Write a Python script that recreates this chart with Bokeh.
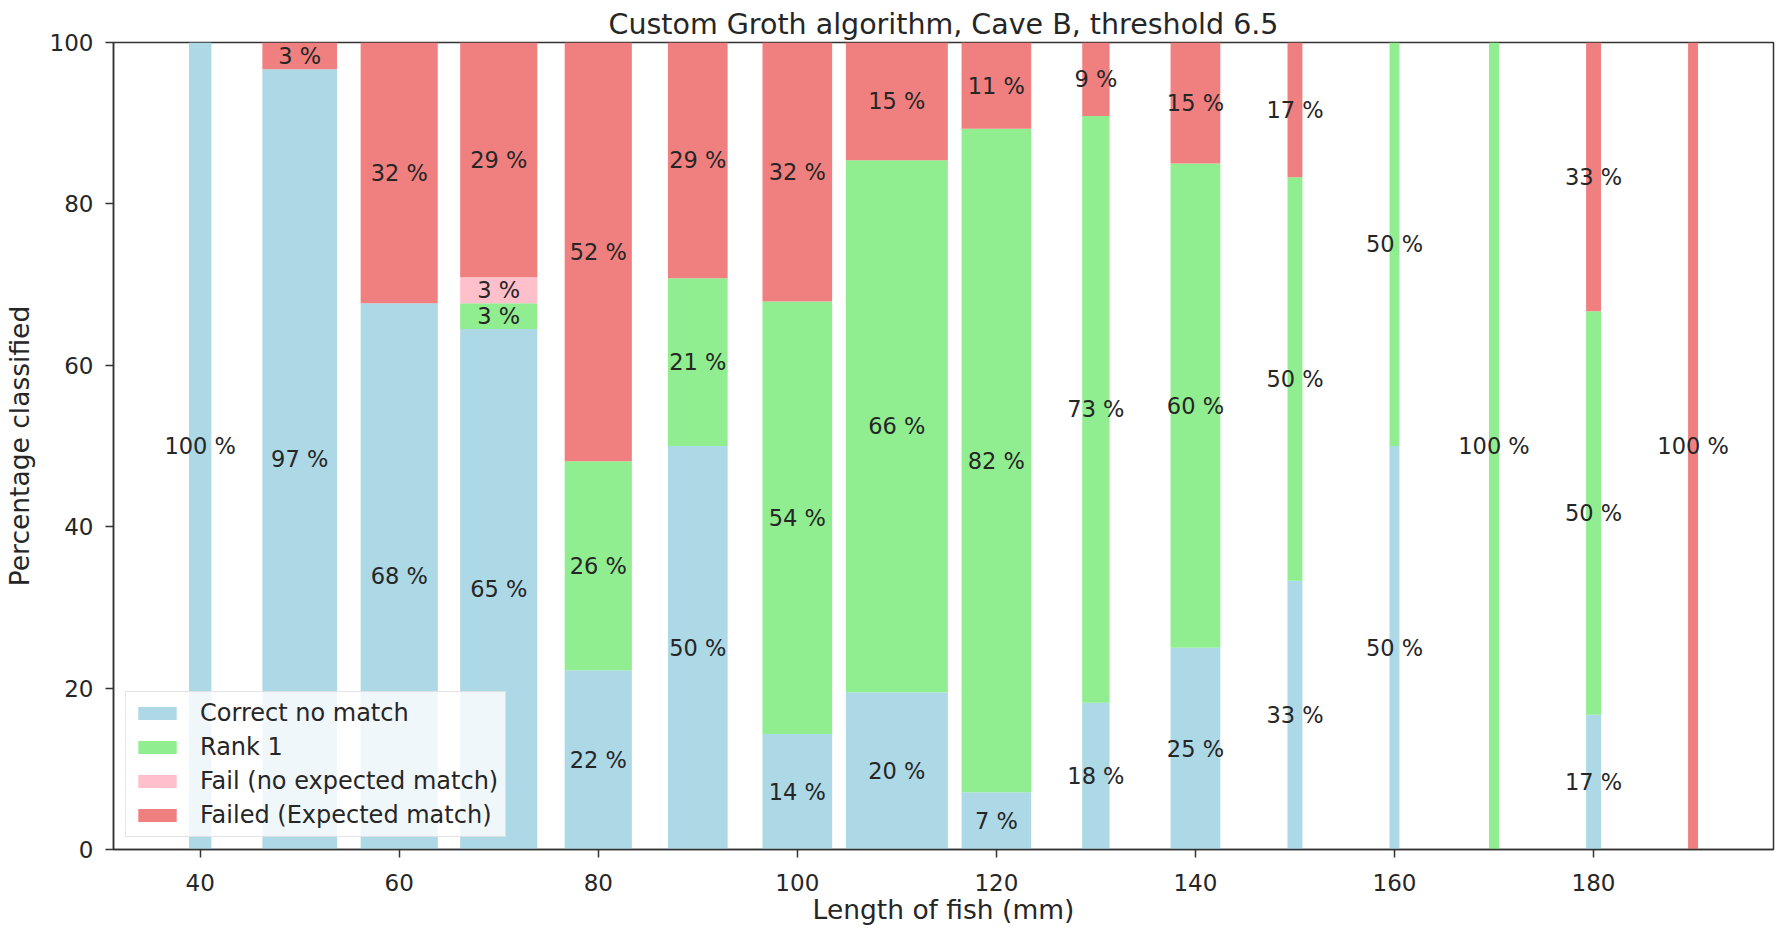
from bokeh.plotting import figure
from bokeh.models import Range1d, FixedTicker, Legend, LegendItem, ColumnDataSource
from bokeh.core.properties import value
from bokeh.embed import file_html
from bokeh.resources import INLINE

# ---- data ----
lengths = [40, 50, 60, 70, 80, 90, 100, 110, 120, 130, 140, 150, 160, 170, 180, 190]
bar_widths = [2.25, 7.5, 7.75, 7.75, 6.75, 6.0, 7.0, 10.25, 7.0, 2.75, 5.0, 1.5, 1.0, 1.0, 1.5, 1.0]

correct_no_match = [100.0, 96.7, 67.7, 64.5, 22.2, 50.0, 14.3, 19.5, 7.1, 18.2, 25.0, 33.3, 50.0, 0.0, 16.7, 0.0]
rank_1 = [0.0, 0.0, 0.0, 3.2, 25.9, 20.8, 53.6, 65.9, 82.2, 72.7, 60.0, 50.0, 50.0, 100.0, 50.0, 0.0]
fail_no_expected = [0.0, 0.0, 0.0, 3.2, 0.0, 0.0, 0.0, 0.0, 0.0, 0.0, 0.0, 0.0, 0.0, 0.0, 0.0, 0.0]
failed_expected = [0.0, 3.3, 32.3, 29.1, 51.9, 29.2, 32.1, 14.6, 10.7, 9.1, 15.0, 16.7, 0.0, 0.0, 33.3, 100.0]

series_names = ["Correct no match", "Rank 1", "Fail (no expected match)", "Failed (Expected match)"]
series_colors = ["#ADD8E6", "#90EE90", "#FFC0CB", "#F08080"]

x_ticks = [40, 60, 80, 100, 120, 140, 160, 180]
y_ticks = [0, 20, 40, 60, 80, 100]

title_text = "Custom Groth algorithm, Cave B, threshold 6.5"
x_label = "Length of fish (mm)"
y_label = "Percentage classified"

FONT = "DejaVu Sans"
TEXT = "#262626"
AXIS = "#333333"

# x range like matplotlib's 5% margins around the bar edges
lo = min(x - w / 2 for x, w in zip(lengths, bar_widths))
hi = max(x + w / 2 for x, w in zip(lengths, bar_widths))
pad = 0.05 * (hi - lo)

p = figure(
    width=1775, height=928,
    x_range=Range1d(lo - pad, hi + pad), y_range=Range1d(0, 100),
    output_backend="svg", toolbar_location=None,
    title=title_text,
    min_border_left=113, min_border_right=2, min_border_top=42, min_border_bottom=79,
)
p.title.align = "center"
p.title.text_font = FONT
p.title.text_font_size = "28.5px"
p.title.text_font_style = "normal"
p.title.text_color = TEXT
p.title.standoff = 4

p.xgrid.visible = False
p.ygrid.visible = False
p.outline_line_color = AXIS
p.outline_line_width = 1.5
p.background_fill_color = "white"
p.border_fill_color = "white"

for ax in (p.xaxis[0], p.yaxis[0]):
    ax.axis_line_color = AXIS
    ax.axis_line_width = 1.5
    ax.major_tick_line_color = AXIS
    ax.major_tick_line_width = 1.5
    ax.major_tick_in = 0
    ax.major_tick_out = 8
    ax.minor_tick_line_color = None
    ax.major_label_text_font = FONT
    ax.major_label_text_font_size = "23px"
    ax.major_label_text_color = TEXT
    ax.axis_label_text_font = FONT
    ax.axis_label_text_font_size = "26.5px"
    ax.axis_label_text_font_style = "normal"
    ax.axis_label_text_color = TEXT

p.xaxis.ticker = FixedTicker(ticks=x_ticks)
p.yaxis.ticker = FixedTicker(ticks=y_ticks)
p.xaxis.axis_label = x_label
p.yaxis.axis_label = y_label
p.xaxis.major_label_standoff = 16
p.xaxis.axis_label_standoff = 0
p.yaxis.major_label_standoff = 12
p.yaxis.axis_label_standoff = 12

series = [correct_no_match, rank_1, fail_no_expected, failed_expected]
bottom = [0.0] * len(lengths)
renderers = []
lx, ly, lt = [], [], []
for name, vals, color in zip(series_names, series, series_colors):
    top = [b + v for b, v in zip(bottom, vals)]
    src = ColumnDataSource(dict(x=lengths, w=bar_widths, bottom=bottom, top=top))
    r = p.vbar(x="x", width="w", bottom="bottom", top="top", source=src,
               fill_color=color, line_color=None)
    renderers.append(r)
    for x, b, v in zip(lengths, bottom, vals):
        if v > 0:
            lx.append(x)
            ly.append(b + v / 2)
            lt.append(f"{int(v + 0.5)} %")
    bottom = top

p.text(x=lx, y=ly, text=lt, text_align="center", text_baseline="middle",
       text_font=value(FONT), text_font_size="22.5px", text_color=TEXT)

legend = Legend(
    items=[LegendItem(label=n, renderers=[r]) for n, r in zip(series_names, renderers)],
    location=(12, 12),
)
legend.label_text_font = FONT
legend.label_text_font_size = "24px"
legend.label_text_color = TEXT
legend.glyph_width = 48
legend.glyph_height = 16
legend.label_height = 26
legend.spacing = 6
legend.padding = 7
legend.label_standoff = 19
legend.background_fill_alpha = 0.8
legend.border_line_color = "#cccccc"
legend.border_line_width = 1.5
legend.margin = 0
p.add_layout(legend)

open("out.html", "w").write(file_html(p, INLINE))
